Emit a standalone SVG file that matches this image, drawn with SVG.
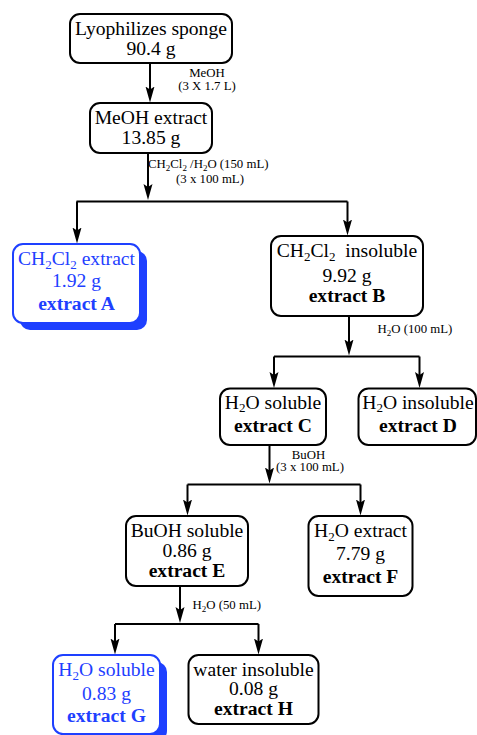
<svg xmlns="http://www.w3.org/2000/svg" width="477" height="735" viewBox="0 0 477 735">
<style>
  .box{fill:#fff;stroke:#000;stroke-width:2}
  .bbox{fill:#fff;stroke:#1e40ff;stroke-width:2}
  .shadow{fill:#1e40ff;stroke:none}
  .t{font-family:"Liberation Serif","Times New Roman",serif;font-size:19.6px;fill:#000;text-anchor:middle}
  .b{font-weight:bold}
  .blue{fill:#1e40ff}
  .s{font-family:"Liberation Serif","Times New Roman",serif;font-size:12.8px;fill:#000}
  .m{text-anchor:middle}
  .con{fill:none;stroke:#000;stroke-width:2}
  .arr{marker-end:url(#ah)}
</style>
<defs>
  <marker id="ah" markerUnits="userSpaceOnUse" viewBox="0 0 16 10" refX="6" refY="5" markerWidth="16" markerHeight="10" orient="auto">
    <path d="M0,0.5 L16,5 L0,9.5 L3,5 Z" fill="#000"/>
  </marker>
</defs>

<g id="connectors">
  <path class="con arr" d="M150,63 V92.5"/>
  <path class="con arr" d="M148,153 V190"/>
  <path class="con" d="M76.5,201.5 H347.5"/>
  <path class="con arr" d="M77,201.5 V233.5"/>
  <path class="con arr" d="M347.5,201.5 V225.5"/>
  <path class="con arr" d="M349,316 V345.5"/>
  <path class="con" d="M274,356.5 H419.5"/>
  <path class="con arr" d="M274,356.5 V378"/>
  <path class="con arr" d="M419.5,356.5 V378"/>
  <path class="con arr" d="M269.5,445 V473.5"/>
  <path class="con" d="M187.5,484.5 H360.5"/>
  <path class="con arr" d="M187.5,484.5 V505.5"/>
  <path class="con arr" d="M360.5,484.5 V505.5"/>
  <path class="con arr" d="M180,586 V613"/>
  <path class="con" d="M115,624 H258.5"/>
  <path class="con arr" d="M115,624 V644.5"/>
  <path class="con arr" d="M258.5,624 V644.5"/>
</g>

<g id="labels">
  <text class="s m" x="207" y="77">MeOH</text>
  <text class="s m" x="207" y="90">(3 X 1.7 L)</text>
  <text class="s" x="148" y="168">CH<tspan font-size="9" dy="3">2</tspan><tspan dy="-3">Cl</tspan><tspan font-size="9" dy="3">2</tspan><tspan dy="-3"> /H</tspan><tspan font-size="9" dy="3">2</tspan><tspan dy="-3">O (150 mL)</tspan></text>
  <text class="s m" x="210" y="183">(3 x 100 mL)</text>
  <text class="s" x="377.5" y="333">H<tspan font-size="9" dy="3">2</tspan><tspan dy="-3">O (100 mL)</tspan></text>
  <text class="s m" x="308.5" y="458.5">BuOH</text>
  <text class="s m" x="310" y="471">(3 x 100 mL)</text>
  <text class="s" x="192.5" y="608.5">H<tspan font-size="9" dy="3">2</tspan><tspan dy="-3">O (50 mL)</tspan></text>
</g>

<g id="node-sponge">
  <rect class="box" x="70" y="14" width="162" height="49" rx="10"/>
  <text class="t" x="151" y="35">Lyophilizes sponge</text>
  <text class="t" x="151" y="55">90.4 g</text>
</g>

<g id="node-meoh">
  <rect class="box" x="90" y="103" width="122" height="50" rx="10"/>
  <text class="t" x="151" y="124">MeOH extract</text>
  <text class="t" x="151" y="144">13.85 g</text>
</g>

<g id="node-A">
  <rect class="shadow" x="20" y="251" width="127" height="79" rx="10"/>
  <rect class="bbox" x="13" y="244" width="127" height="79" rx="10"/>
  <text class="t blue" x="76.5" y="265">CH<tspan font-size="13" dy="3.5">2</tspan><tspan dy="-3.5">Cl</tspan><tspan font-size="13" dy="3.5">2</tspan><tspan dy="-3.5"> extract</tspan></text>
  <text class="t blue" x="76.5" y="287">1.92 g</text>
  <text class="t blue b" x="76.5" y="310">extract A</text>
</g>

<g id="node-B">
  <rect class="box" x="271" y="236" width="152" height="80" rx="10"/>
  <text class="t" x="347" y="257" xml:space="preserve">CH<tspan font-size="13" dy="3.5">2</tspan><tspan dy="-3.5">Cl</tspan><tspan font-size="13" dy="3.5">2</tspan><tspan dy="-3.5">  insoluble</tspan></text>
  <text class="t" x="347" y="282">9.92 g</text>
  <text class="t b" x="347" y="302">extract B</text>
</g>

<g id="node-C">
  <rect class="box" x="220" y="388.5" width="106" height="56.5" rx="10"/>
  <text class="t" x="273" y="408.5">H<tspan font-size="13" dy="3.5">2</tspan><tspan dy="-3.5">O soluble</tspan></text>
  <text class="t b" x="273" y="432">extract C</text>
</g>

<g id="node-D">
  <rect class="box" x="358.5" y="388.5" width="117.5" height="56.5" rx="10"/>
  <text class="t" x="418" y="408.5">H<tspan font-size="13" dy="3.5">2</tspan><tspan dy="-3.5">O insoluble</tspan></text>
  <text class="t b" x="418" y="432">extract D</text>
</g>

<g id="node-E">
  <rect class="box" x="126" y="516" width="122" height="70" rx="10"/>
  <text class="t" x="187" y="537">BuOH soluble</text>
  <text class="t" x="187" y="557">0.86 g</text>
  <text class="t b" x="187" y="577">extract E</text>
</g>

<g id="node-F">
  <rect class="box" x="308.5" y="516" width="104" height="80" rx="10"/>
  <text class="t" x="360.5" y="537">H<tspan font-size="13" dy="3.5">2</tspan><tspan dy="-3.5">O extract</tspan></text>
  <text class="t" x="360.5" y="560">7.79 g</text>
  <text class="t b" x="360.5" y="583">extract F</text>
</g>

<g id="node-G">
  <rect class="shadow" x="60" y="662" width="107" height="79" rx="10"/>
  <rect class="bbox" x="53" y="655" width="107" height="79" rx="10"/>
  <text class="t blue" x="106.5" y="676">H<tspan font-size="13" dy="3.5">2</tspan><tspan dy="-3.5">O soluble</tspan></text>
  <text class="t blue" x="106.5" y="699.5">0.83 g</text>
  <text class="t blue b" x="106.5" y="722">extract G</text>
</g>

<g id="node-H">
  <rect class="box" x="188.5" y="655" width="130" height="69" rx="10"/>
  <text class="t" x="253.5" y="676">water insoluble</text>
  <text class="t" x="253.5" y="695">0.08 g</text>
  <text class="t b" x="253.5" y="715">extract H</text>
</g>
</svg>
